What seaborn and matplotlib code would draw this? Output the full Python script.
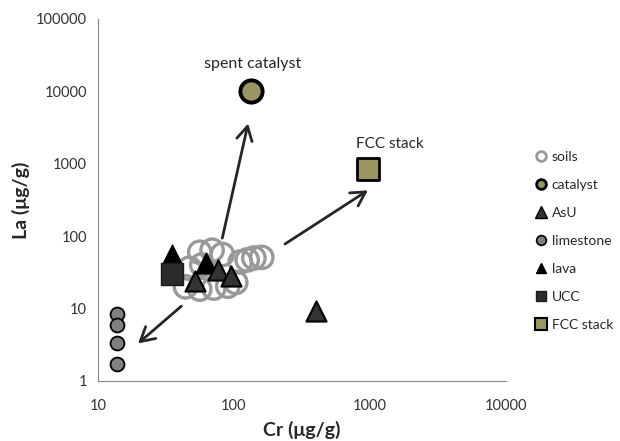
import matplotlib
matplotlib.use("Agg")
import matplotlib.pyplot as plt
from matplotlib.lines import Line2D
import seaborn as sns
import pandas as pd

# data (Cr, La in ug/g)
soils_cr = [56, 69, 82, 47, 58, 44, 56, 71, 90, 103, 111, 125, 140, 160]
soils_la = [60, 64, 56, 36, 40, 20, 18.6, 19.2, 20.4, 23, 44, 47, 50, 51]
catalyst_cr = [133]
catalyst_la = [10000]
asu_cr = [52, 76, 95, 400]
asu_la = [24, 34, 28, 9.2]
limestone_cr = [13.7, 13.7, 13.7, 13.7]
limestone_la = [8.4, 5.9, 3.3, 1.7]
lava_cr = [35, 62]
lava_la = [55, 42]
ucc_cr = [35]
ucc_la = [30]
fcc_cr = [960]
fcc_la = [840]

# arrows: (start, end)
arrows = [((82, 94), (127, 3600)),
          ((237, 78), (965, 430)),
          ((41, 10.8), (19.7, 3.3))]

sns.set_style("white")
plt.rcParams['font.family'] = ['Lato', 'DejaVu Sans']

fig = plt.figure(figsize=(6.2, 4.41), dpi=100)
ax = fig.add_axes([98 / 620, 1 - 381 / 441, (506 - 98) / 620, (381 - 19) / 441])

olive = '#9c9562'

sns.scatterplot(x=soils_cr, y=soils_la, ax=ax, marker='o', s=260,
                facecolor='none', edgecolor='#999999', linewidth=2.4, zorder=3)
sns.scatterplot(x=ucc_cr, y=ucc_la, ax=ax, marker='s', s=250,
                color='#2b2b2b', edgecolor='#1a1a1a', linewidth=1, zorder=4)
sns.scatterplot(x=lava_cr, y=lava_la, ax=ax, marker='^', s=225,
                color='black', edgecolor='black', linewidth=1, zorder=3.5)
sns.scatterplot(x=asu_cr, y=asu_la, ax=ax, marker='^', s=210,
                color='#333333', edgecolor='black', linewidth=1.5, zorder=5)
sns.scatterplot(x=limestone_cr, y=limestone_la, ax=ax, marker='o', s=100,
                color='#808080', edgecolor='black', linewidth=1.3, zorder=4)
sns.scatterplot(x=catalyst_cr, y=catalyst_la, ax=ax, marker='o', s=256,
                color=olive, edgecolor='black', linewidth=2.8, zorder=4)
sns.scatterplot(x=fcc_cr, y=fcc_la, ax=ax, marker='s', s=272,
                color=olive, edgecolor='black', linewidth=2, zorder=4)

for (x0, y0), (x1, y1) in arrows:
    ax.annotate('', xy=(x1, y1), xytext=(x0, y0),
                arrowprops=dict(arrowstyle='->,head_length=0.5,head_width=0.28',
                                mutation_scale=20, lw=2, color='#262626',
                                shrinkA=0, shrinkB=0))

ax.text(136, 24000, 'spent catalyst', ha='center', va='center', fontsize=11.5)
ax.text(1400, 1900, 'FCC stack', ha='center', va='center', fontsize=11)

ax.set_xscale('log')
ax.set_yscale('log')
ax.set_xlim(10, 10000)
ax.set_ylim(1, 100000)
ax.set_xticks([10, 100, 1000, 10000])
ax.set_xticklabels(['10', '100', '1000', '10000'])
ax.set_yticks([1, 10, 100, 1000, 10000, 100000])
ax.set_yticklabels(['1', '10', '100', '1000', '10000', '100000'])
ax.minorticks_off()
ax.tick_params(axis='both', direction='out', length=5, width=0.8, color='#888888',
               labelsize=10.5, labelcolor='#333333', pad=3)
ax.tick_params(axis='x', pad=8)
for side in ['top', 'right']:
    ax.spines[side].set_visible(False)
for side in ['left', 'bottom']:
    ax.spines[side].set_color('#888888')
    ax.spines[side].set_linewidth(0.8)

ax.set_xlabel('Cr (μg/g)', fontsize=14, fontweight='bold', labelpad=6)
ax.set_ylabel('La (μg/g)', fontsize=14, fontweight='bold', labelpad=4)

handles = [
    Line2D([], [], ls='', marker='o', ms=7, mfc='white', mec='#999999', mew=2),
    Line2D([], [], ls='', marker='o', ms=7, mfc=olive, mec='black', mew=2),
    Line2D([], [], ls='', marker='^', ms=8, mfc='#333333', mec='black', mew=1),
    Line2D([], [], ls='', marker='o', ms=7, mfc='#808080', mec='black', mew=1.2),
    Line2D([], [], ls='', marker='^', ms=7, mfc='black', mec='black'),
    Line2D([], [], ls='', marker='s', ms=7, mfc='#2b2b2b', mec='#1a1a1a'),
    Line2D([], [], ls='', marker='s', ms=8, mfc=olive, mec='black', mew=1.5),
]
labels = ['soils', 'catalyst', 'AsU', 'limestone', 'lava', 'UCC', 'FCC stack']
fig.legend(handles, labels, loc='upper left', bbox_to_anchor=(535 / 620, 1 - 151 / 441),
           frameon=False, fontsize=10, handlelength=0.8, handletextpad=0.4,
           labelspacing=1.15, borderaxespad=0, borderpad=0)

fig.savefig('out.png', dpi=100)
